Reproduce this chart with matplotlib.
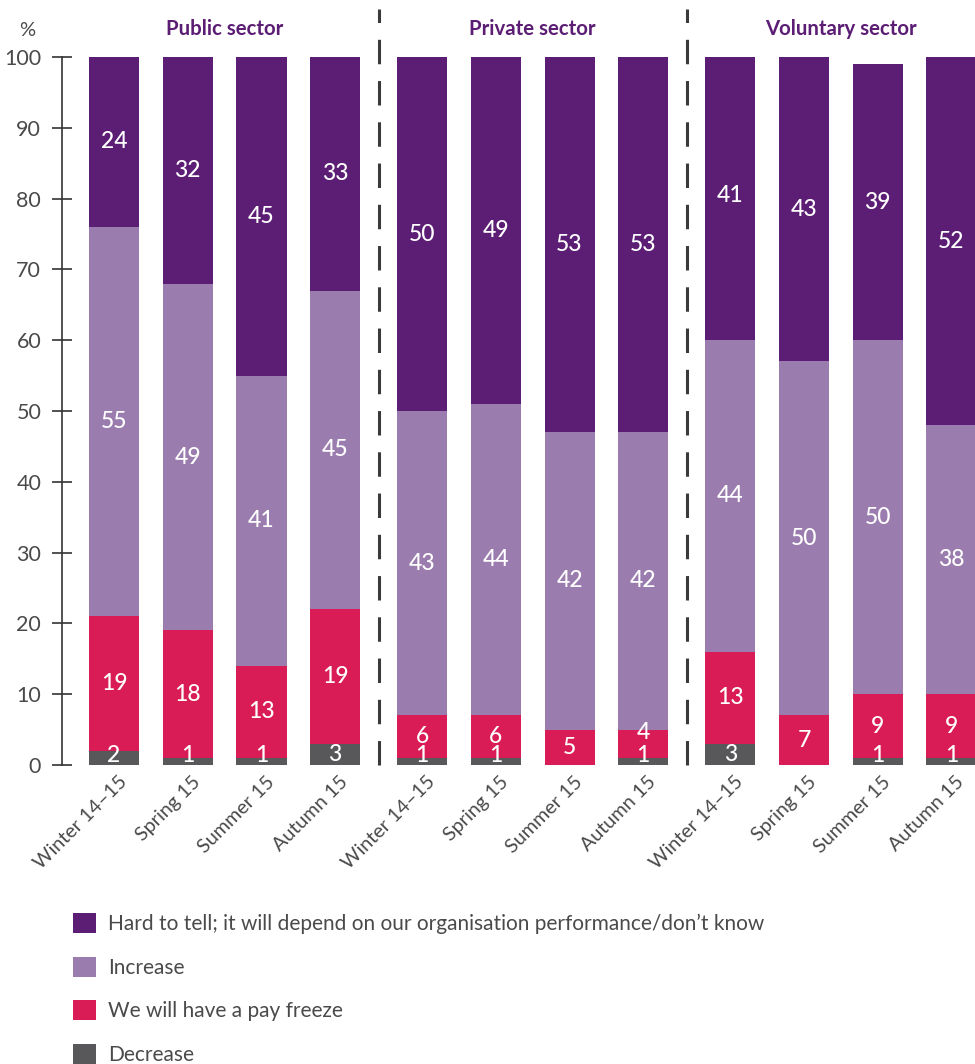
import numpy as np
import matplotlib
matplotlib.use("Agg")
import matplotlib.pyplot as plt
from matplotlib.transforms import ScaledTranslation

plt.rcParams['font.family'] = ['Lato', 'DejaVu Sans']

sectors = ["Public sector", "Private sector", "Voluntary sector"]
periods = ["Winter 14–15", "Spring 15", "Summer 15", "Autumn 15"]

# one value per bar, sectors in order, four periods each
decrease = [2, 1, 1, 3, 1, 1, 0, 1, 3, 0, 1, 1]
pay_freeze = [19, 18, 13, 19, 6, 6, 5, 4, 13, 7, 9, 9]
increase = [55, 49, 41, 45, 43, 44, 42, 42, 44, 50, 50, 38]
hard_to_tell = [24, 32, 45, 33, 50, 49, 53, 53, 41, 43, 39, 52]

series = [
    ("Decrease", decrease, "#58585a"),
    ("We will have a pay freeze", pay_freeze, "#d91c55"),
    ("Increase", increase, "#9b7cae"),
    ("Hard to tell; it will depend on our organisation performance/don\u2019t know",
     hard_to_tell, "#5c1d74"),
]

text_grey = "#4a4a4a"
group_step = 4.18
xs = np.array([g * group_step + i for g in range(len(sectors)) for i in range(len(periods))])

fig = plt.figure(figsize=(9.75, 10.64), dpi=100)
ax = fig.add_axes([62 / 975, 0.281, 1 - 62 / 975, 0.6654])

bottom = np.zeros(len(xs))
handles = []
for name, vals, color in series:
    vals = np.array(vals, dtype=float)
    bars = ax.bar(xs, vals, width=0.68, bottom=bottom, color=color, label=name)
    handles.append(bars)
    for x, b, v in zip(xs, bottom, vals):
        if v <= 0:
            continue
        y = max(b + v / 2, 1.3)
        # keep small labels from sitting on top of the one below
        if b > 0 and v < 6:
            y = max(y, b + 3.6)
        ax.text(x, y, f"{int(v)}", ha="center", va="center", color="white",
                fontsize=16.5, fontweight="medium")
    bottom += vals

ax.set_xlim(-0.706, 11.68)
ax.set_ylim(0, 100)
ax.set_yticks(np.arange(0, 101, 10))
ax.tick_params(axis="y", direction="inout", length=14, width=1.2, colors="#333333",
               labelcolor=text_grey, labelsize=15.5, pad=8)
for side in ["top", "right", "bottom"]:
    ax.spines[side].set_visible(False)
ax.spines["left"].set_color("#333333")
ax.spines["left"].set_linewidth(1.2)

ax.set_xticks(xs)
ax.set_xticklabels(periods * len(sectors), rotation=45, ha="right",
                   rotation_mode="anchor", fontsize=14.2, color=text_grey)
ax.tick_params(axis="x", length=0, pad=6)
for lab in ax.get_xticklabels():
    lab.set_transform(lab.get_transform() + ScaledTranslation(0.04, 0, fig.dpi_scale_trans))

# dashed separators between the sectors
for g in range(1, len(sectors)):
    sep = (xs[4 * g - 1] + xs[4 * g]) / 2
    ax.plot([sep, sep], [0, 106.8], color="#3a3a3a", lw=2.2, dashes=(8, 5.5),
            clip_on=False)

for g, sector in enumerate(sectors):
    cx = xs[4 * g:4 * g + 4].mean()
    ax.text(cx, 103.9, sector, ha="center", va="center", fontsize=14.7,
            fontweight="bold", color="#5c1d74")

ax.text(-1.07, 103.8, "%", ha="right", va="center", fontsize=14.5, color=text_grey)

fig.legend(handles[::-1], [s[0] for s in series[::-1]], loc="upper left",
           bbox_to_anchor=(73 / 975, 1 - 913 / 1064), frameon=False,
           fontsize=15, handlelength=1.1, handleheight=1.1,
           labelspacing=1.08, handletextpad=0.6, borderpad=0, borderaxespad=0,
           labelcolor=text_grey)

fig.savefig("out.png", dpi=100)
